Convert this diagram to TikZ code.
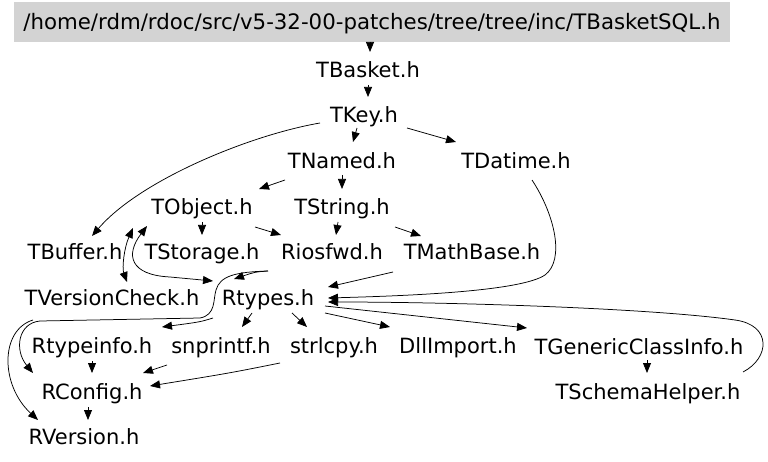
\documentclass[tikz,border=0pt]{standalone}
\usepackage{fontspec}
\setmainfont{DejaVu Sans}
\usetikzlibrary{calc,arrows.meta}
\definecolor{titlegray}{RGB}{211,211,211}
\begin{document}
\begin{tikzpicture}[x=1pt,y=-1pt,
  file/.style={inner sep=0pt, text height=15.3pt, text depth=0pt, font=\fontsize{21}{25}\selectfont},
  dep/.style={-{Triangle[length=10pt,width=8pt]}, line width=0.75pt},
  bidep/.style={{Triangle[length=10pt,width=8pt]}-{Triangle[length=10pt,width=8pt]}, line width=0.75pt}]
\useasboundingbox (0,0) rectangle (768,462);
% nodes
\node[file, fill=titlegray, minimum width=716pt, minimum height=40pt, font=\fontsize{21.3}{25}\selectfont] (title) at (372,22) {/home/rdm/rdoc/src/v5-32-00-patches/tree/tree/inc/TBasketSQL.h};
\node[file] (TBasket) at (368,70) {TBasket.h};
\node[file] (TKey) at (364,115) {TKey.h};
\node[file] (TNamed) at (342,161) {TNamed.h};
\node[file] (TDatime) at (516,161) {TDatime.h};
\node[file] (TObject) at (202,207) {TObject.h};
\node[file] (TString) at (342,207) {TString.h};
\node[file] (TBuffer) at (75,252) {TBuffer.h};
\node[file] (TStorage) at (202,252) {TStorage.h};
\node[file] (Riosfwd) at (332,252) {Riosfwd.h};
\node[file] (TMathBase) at (472,252) {TMathBase.h};
\node[file] (TVersionCheck) at (112,298) {TVersionCheck.h};
\node[file] (Rtypes) at (268,298) {Rtypes.h};
\node[file] (Rtypeinfo) at (92,346) {Rtypeinfo.h};
\node[file] (snprintf) at (221,346) {snprintf.h};
\node[file] (strlcpy) at (334,346) {strlcpy.h};
\node[file] (DllImport) at (458,346) {DllImport.h};
\node[file] (TGenericClassInfo) at (639,347) {TGenericClassInfo.h};
\node[file] (RConfig) at (92,392) {RConfig.h};
\node[file] (TSchemaHelper) at (648,392) {TSchemaHelper.h};
\node[file] (RVersion) at (84,437) {RVersion.h};
% edges
\draw[dep] ($(title.center)+(-2,20)$) -- ($(TBasket.center)+(2,-18)$);
\draw[dep] ($(TBasket.center)+(0,15)$) -- ($(TKey.center)+(4,-18)$);
\draw[dep] ($(TKey.center)+(-44,8)$) .. controls (250,135) and (140,180) .. ($(TBuffer.center)+(17,-16)$);
\draw[dep] ($(TKey.center)+(-7,13)$) -- ($(TNamed.center)+(11,-19)$);
\draw[dep] ($(TKey.center)+(43,13)$) -- ($(TDatime.center)+(-60,-19)$);
\draw[dep] ($(TNamed.center)+(-57,19)$) -- ($(TObject.center)+(57,-18)$);
\draw[dep] ($(TNamed.center)+(0,14)$) -- ($(TString.center)+(0,-18)$);
\draw[dep] ($(TObject.center)+(0,15)$) -- ($(TStorage.center)+(0,-17)$);
\draw[dep] ($(TObject.center)+(53,20)$) -- ($(Riosfwd.center)+(-51,-17)$);
\draw[bidep] ($(TObject.center)+(-69,21)$) .. controls (124,248) and (122,268) .. ($(TVersionCheck.center)+(15,-16)$);
\draw[bidep] ($(TObject.center)+(-55,19)$) .. controls (125,255) and (130,275) .. (170,277) -- ($(Rtypes.center)+(-55,-17)$);
\draw[dep] ($(TString.center)+(-4,15)$) -- ($(Riosfwd.center)+(4,-17)$);
\draw[dep] ($(TString.center)+(53,20)$) -- ($(TMathBase.center)+(-51,-16)$);
\draw[dep] ($(Riosfwd.center)+(-64,19)$) .. controls (255,272) .. ($(Rtypes.center)+(-34,-19)$);
\draw[dep] ($(Riosfwd.center)+(-64,19)$) .. controls (235,272) and (220,276) .. (216,290)
  .. controls (213,300) and (216,315) .. (200,318) -- (40,321)
  .. controls (18,323) and (14,350) .. ($(RConfig.center)+(-59,-19)$);
\draw[dep] ($(TMathBase.center)+(-79,20)$) -- ($(Rtypes.center)+(60,-11)$);
\draw[dep] ($(TDatime.center)+(16,19)$) .. controls (555,215) and (565,260) .. (545,275)
  .. controls (520,292) and (400,296) .. ($(Rtypes.center)+(60,0)$);
\draw[dep] ($(TSchemaHelper.center)+(95,-20)$) .. controls (770,358) and (772,325) .. (735,320)
  .. controls (650,308) and (450,302) .. ($(Rtypes.center)+(60,4)$);
\draw[dep] ($(Rtypes.center)+(-55,20)$) .. controls (200,322) .. ($(Rtypeinfo.center)+(70,-19)$);
\draw[dep] ($(Rtypes.center)+(-16,15)$) -- ($(snprintf.center)+(21,-19)$);
\draw[dep] ($(Rtypes.center)+(24,15)$) -- ($(strlcpy.center)+(-27,-19)$);
\draw[dep] ($(Rtypes.center)+(57,15)$) -- ($(DllImport.center)+(-68,-19)$);
\draw[dep] ($(Rtypes.center)+(57,8)$) -- ($(TGenericClassInfo.center)+(-112,-19)$);
\draw[dep] ($(TGenericClassInfo.center)+(8,13)$) -- ($(TSchemaHelper.center)+(-1,-19)$);
\draw[dep] ($(Rtypeinfo.center)+(0,15)$) -- ($(RConfig.center)+(0,-19)$);
\draw[dep] ($(snprintf.center)+(-54,19)$) -- ($(RConfig.center)+(51,-19)$);
\draw[dep] ($(strlcpy.center)+(-54,17)$) .. controls (230,373) .. ($(RConfig.center)+(58,-6)$);
\draw[dep] ($(RConfig.center)+(-4,15)$) -- ($(RVersion.center)+(4,-17)$);
\draw[dep] ($(TVersionCheck.center)+(-79,22)$) .. controls (0,330) and (0,385) .. ($(RVersion.center)+(-46,-17)$);
\end{tikzpicture}
\end{document}
